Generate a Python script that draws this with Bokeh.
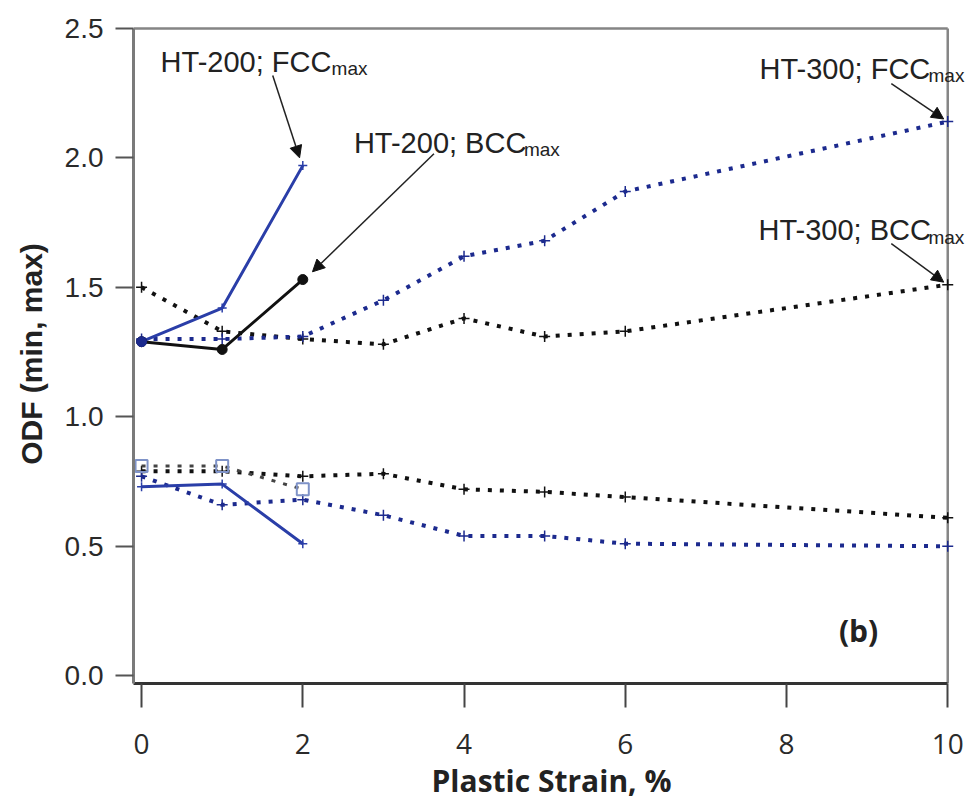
from bokeh.plotting import figure
from bokeh.models import FixedTicker, PrintfTickFormatter, Label, Arrow, NormalHead
from bokeh.embed import file_html
from bokeh.resources import INLINE

# ---- data ----
x_ht200 = [0, 1, 2]
fcc200_max = [1.29, 1.42, 1.97]
bcc200_max = [1.29, 1.26, 1.53]
fcc200_min = [0.73, 0.74, 0.51]
bcc200_min = [0.81, 0.81, 0.72]

x_ht300 = [0, 1, 2, 3, 4, 5, 6, 10]
fcc300_max = [1.30, 1.30, 1.31, 1.45, 1.62, 1.68, 1.87, 2.14]
bcc300_max = [1.50, 1.33, 1.30, 1.28, 1.38, 1.31, 1.33, 1.51]
bcc300_min = [0.79, 0.79, 0.77, 0.78, 0.72, 0.71, 0.69, 0.61]
fcc300_min = [0.77, 0.66, 0.68, 0.62, 0.54, 0.54, 0.51, 0.50]

x_ticks = [0, 2, 4, 6, 8, 10]
y_ticks = [0.0, 0.5, 1.0, 1.5, 2.0, 2.5]

BLUE = "#2a3ea8"
NAVY = "#1c2a8e"
BLACK = "#111111"

X0, X1 = -0.1, 10.27     # frame extends a little past x=10 so right-hand labels are not clipped
Y0, Y1 = -0.03, 2.515
XMAX, YMAX = x_ticks[-1], y_ticks[-1]

p = figure(width=969, height=806, x_range=(X0, X1), y_range=(Y0, Y1),
           output_backend="svg", toolbar_location=None,
           min_border_left=133, min_border_right=0, min_border_top=24, min_border_bottom=123)
p.xgrid.visible = False
p.ygrid.visible = False
p.outline_line_color = None
p.background_fill_color = "white"
p.border_fill_color = "white"

# axes
p.xaxis.ticker = FixedTicker(ticks=x_ticks)
p.yaxis.ticker = FixedTicker(ticks=y_ticks)
p.yaxis.formatter = PrintfTickFormatter(format="%.1f")
p.xaxis.formatter = PrintfTickFormatter(format="%d")
p.xaxis.minor_tick_line_color = None
p.yaxis.minor_tick_line_color = None
p.xaxis.bounds = (X0, XMAX)
p.yaxis.bounds = (Y0, YMAX)

p.yaxis.axis_line_color = "#7a7a7a"
p.yaxis.axis_line_width = 3
p.yaxis.major_tick_line_color = "#555555"
p.yaxis.major_tick_line_width = 2
p.yaxis.major_tick_out = 18
p.yaxis.major_tick_in = 0
p.yaxis.major_label_text_font = "Liberation Sans"
p.yaxis.major_label_text_font_size = "28px"
p.yaxis.major_label_text_color = "#2a2a2a"
p.yaxis.major_label_standoff = 12
p.yaxis.axis_label = "ODF (min, max)"
p.yaxis.axis_label_text_font = "Liberation Sans"
p.yaxis.axis_label_text_font_style = "bold"
p.yaxis.axis_label_text_font_size = "30px"
p.yaxis.axis_label_text_color = "#222222"
p.yaxis.axis_label_standoff = 14

p.xaxis.axis_line_color = "#333333"
p.xaxis.axis_line_width = 3
p.xaxis.major_tick_line_color = "#444444"
p.xaxis.major_tick_line_width = 2
p.xaxis.major_tick_out = 24
p.xaxis.major_tick_in = 0
p.xaxis.major_label_text_font = "Open Sans"
p.xaxis.major_label_text_font_size = "28px"
p.xaxis.major_label_text_color = "#2a2a2a"
p.xaxis.major_label_standoff = 26
p.xaxis.axis_label = "Plastic Strain, %"
p.xaxis.axis_label_text_font = "Open Sans"
p.xaxis.axis_label_text_font_style = "bold"
p.xaxis.axis_label_text_font_size = "30px"
p.xaxis.axis_label_text_color = "#222222"
p.xaxis.axis_label_standoff = 3

# box lines (top and right), ending at the last ticks
p.segment(x0=[X0], y0=[YMAX], x1=[XMAX], y1=[YMAX], line_color="#858585", line_width=2.5)
p.segment(x0=[XMAX], y0=[Y0], x1=[XMAX], y1=[YMAX], line_color="#858585", line_width=2.5)

# ---- HT-300 dotted series ----
p.line(x_ht300, bcc300_max, line_color=BLACK, line_width=4, line_dash="4 8")
p.scatter(x_ht300, bcc300_max, marker="cross", size=11, line_color=BLACK, line_width=1.5)
p.line(x_ht300, bcc300_min, line_color=BLACK, line_width=4, line_dash="4 8")
p.scatter(x_ht300, bcc300_min, marker="cross", size=11, line_color=BLACK, line_width=1.5)
p.line(x_ht300, fcc300_max, line_color=NAVY, line_width=4, line_dash="4 8")
p.scatter(x_ht300, fcc300_max, marker="cross", size=11, line_color=NAVY, line_width=1.5)
p.line(x_ht300, fcc300_min, line_color=NAVY, line_width=4, line_dash="4 8")
p.scatter(x_ht300, fcc300_min, marker="cross", size=11, line_color=NAVY, line_width=1.5)

# ---- HT-200 series ----
p.line(x_ht200, bcc200_min, line_color="#444444", line_width=3, line_dash="4 8")
p.scatter(x_ht200, bcc200_min, marker="square", size=12, fill_color=None,
          line_color="#7f93c8", line_width=2)
p.line(x_ht200, fcc200_min, line_color=BLUE, line_width=3)
p.scatter(x_ht200, fcc200_min, marker="cross", size=9, line_color=BLUE, line_width=1.5)
p.line(x_ht200, fcc200_max, line_color=BLUE, line_width=3)
p.scatter(x_ht200, fcc200_max, marker="cross", size=9, line_color=BLUE, line_width=1.5)
p.line(x_ht200, bcc200_max, line_color=BLACK, line_width=3)
p.scatter(x_ht200, bcc200_max, marker="circle", size=10, fill_color=BLACK, line_color=BLACK)
p.scatter(x_ht200[:1], fcc200_max[:1], marker="circle", size=10, fill_color=NAVY, line_color=NAVY)

# ---- annotations ----
MAIN_PX = 29
SUB_PX = 19

def ann(x, y, main, width_px):
    p.add_layout(Label(x=x, y=y, text=main, text_font="Liberation Sans",
                       text_font_size=f"{MAIN_PX}px", text_color="#222222",
                       text_align="left", text_baseline="alphabetic"))
    p.add_layout(Label(x=x, y=y, x_offset=width_px, y_offset=-7, text="max",
                       text_font="Liberation Sans", text_font_size=f"{SUB_PX}px",
                       text_color="#222222", text_align="left", text_baseline="alphabetic"))

ann(0.236, 2.372, "HT-200; FCC", 171)
ann(2.634, 2.059, "HT-200; BCC", 170)
ann(7.665, 2.345, "HT-300; FCC", 169)
ann(7.652, 1.720, "HT-300; BCC", 170)

def arrow(x0, y0, x1, y1):
    p.add_layout(Arrow(end=NormalHead(size=12, fill_color="#111111", line_color="#111111"),
                       x_start=x0, y_start=y0, x_end=x1, y_end=y1,
                       line_color="#222222", line_width=1.5))

arrow(1.627, 2.318, x_ht200[-1] - 0.04, fcc200_max[-1] + 0.03)
arrow(3.627, 2.016, x_ht200[-1] + 0.12, bcc200_max[-1] + 0.03)
arrow(9.30, 2.287, x_ht300[-1] - 0.05, fcc300_max[-1] + 0.01)
arrow(9.30, 1.669, x_ht300[-1] - 0.05, bcc300_max[-1] + 0.01)

p.add_layout(Label(x=8.894, y=0.175, text="(b)", text_font="Open Sans",
                   text_font_style="bold", text_font_size="30px", text_color="#222222",
                   text_align="center", text_baseline="middle"))

open("out.html", "w").write(file_html(p, INLINE))
